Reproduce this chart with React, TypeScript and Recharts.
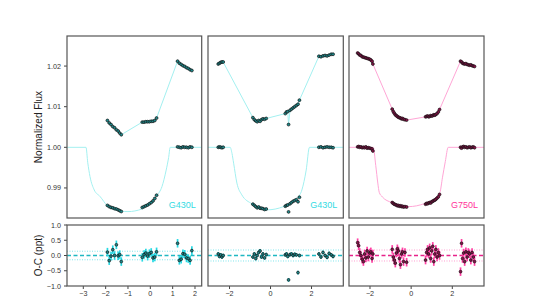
import React from 'react';
import { ComposedChart, Scatter, Line, XAxis, YAxis, ReferenceLine, ErrorBar } from 'recharts';

const W = 538;
const H = 300;
const FONT = '"Liberation Sans", Arial, Helvetica, sans-serif';

// plot boxes (pixels)
const TOP = [36, 218];
const BOT = [225, 286];

const fluxDomain: [number, number] = [0.9826, 1.0274];
const fluxTicks = [0.99, 1.0, 1.01, 1.02];
const resTicks = [-1, -0.5, 0, 0.5, 1];

// ---- visit 1, G430L ----
const v1Time = [-1.92, -1.84, -1.76, -1.68, -1.6, -1.52, -1.44, -1.37, -1.3,
  -0.36, -0.28, -0.2, -0.12, -0.04, 0.04, 0.12, 0.2, 0.28,
  1.22, 1.3, 1.38, 1.46, 1.54, 1.62, 1.7, 1.78, 1.86];
const v1Raw = [1.0066, 1.006, 1.0056, 1.0051, 1.0048, 1.0043, 1.004, 1.0035, 1.0031,
  1.0062, 1.0062, 1.0063, 1.0063, 1.0063, 1.0064, 1.0064, 1.0066, 1.0072,
  1.0212, 1.0207, 1.0204, 1.0201, 1.0199, 1.0196, 1.0194, 1.0191, 1.0189];
const v1Det = [0.9857, 0.9854, 0.9852, 0.9851, 0.9849, 0.9848, 0.9846, 0.9844, 0.9842,
  0.9852, 0.9854, 0.9856, 0.9858, 0.9861, 0.9864, 0.9868, 0.9874, 0.9882,
  1.0001, 1.0, 0.9999, 1.0001, 1.0, 1.0, 0.9999, 1.0001, 1.0];
const v1Res = [0.11, -0.17, -0.02, 0.19, 0.0, 0.35, -0.01, 0.03, -0.2,
  -0.06, 0.03, 0.08, -0.02, 0.06, 0.1, -0.08, -0.05, 0.12,
  0.4, -0.16, -0.12, 0.06, 0.04, -0.08, -0.1, -0.16, 0.16];
const v1ModelT = [-3.73, -2.88, -2.8, -2.7, -2.51, -2.25, -1.92, -1.58, -1.0, -0.38, -0.01, 0.29, 0.52, 0.71, 0.82, 0.89, 2.3];
const v1ModelF = [1.0, 1.0, 0.9962, 0.9928, 0.9895, 0.9879, 0.9856, 0.9846, 0.98418, 0.9848, 0.9862, 0.9881, 0.9903, 0.9944, 0.9975, 1.0, 1.0];

// ---- visit 2, G430L ----
const v2Time = [-2.55, -2.49, -2.43, -2.37, -2.31,
  -0.86, -0.79, -0.72, -0.65, -0.58, -0.51, -0.44, -0.37, -0.29, -0.21,
  0.72, 0.78, 0.84, 0.88, 0.95, 1.02, 1.1, 1.18, 1.26, 1.34, 1.41,
  2.36, 2.46, 2.56, 2.66, 2.76, 2.86, 2.96, 3.05];
const v2Raw = [1.0205, 1.0207, 1.0209, 1.021, 1.021,
  1.0073, 1.0068, 1.0065, 1.0063, 1.0066, 1.0064, 1.0068, 1.007, 1.0069, 1.0071,
  1.0083, 1.0087, 1.0088, 1.0056, 1.0091, 1.0094, 1.0097, 1.01, 1.0103, 1.0106, 1.0116,
  1.0224, 1.0223, 1.0225, 1.0226, 1.0225, 1.0227, 1.0229, 1.0229];
const v2Det = [1.0, 1.0001, 1.0, 0.9999, 1.0,
  0.986, 0.9857, 0.9854, 0.9851, 0.9853, 0.985, 0.985, 0.9849, 0.9847, 0.9848,
  0.9855, 0.9857, 0.9858, 0.9841, 0.9861, 0.9864, 0.9867, 0.9869, 0.9871, 0.9866, 0.9877,
  1.0, 1.0001, 0.9999, 1.0, 1.0001, 1.0, 1.0, 0.9999];
const v2Res = [0.05, -0.03, 0.02, -0.05, 0.0,
  -0.05, 0.05, -0.1, 0.0, 0.1, 0.15, -0.05, 0.05, -0.08, 0.03,
  0.02, 0.05, -0.03, -0.8, 0.03, 0.05, 0.0, 0.04, 0.02, -0.56, 0.0,
  0.05, -0.05, 0.1, 0.0, -0.06, 0.07, 0.02, -0.03];
const v2ModelT = [-3.05, -1.97, -1.88, -1.8, -1.64, -1.4, -0.91, -0.18, 0.63, 1.29, 1.53, 1.74, 1.9, 3.55];
const v2ModelF = [1.0, 1.0, 0.9985, 0.9961, 0.9912, 0.9883, 0.9861, 0.9846, 0.9854, 0.9875, 0.9895, 0.9944, 1.0, 1.0];

// ---- visit 3, G750L ----
const v3Time = [-2.6, -2.55, -2.5, -2.44, -2.38, -2.32, -2.26, -2.2, -2.14, -2.08, -2.02, -1.96, -1.9, -1.86,
  -0.92, -0.87, -0.82, -0.77, -0.72, -0.67, -0.62, -0.57, -0.52, -0.47, -0.42, -0.37, -0.3, -0.22,
  0.7, 0.75, 0.8, 0.85, 0.9, 0.95, 1.0, 1.05, 1.1, 1.15, 1.2, 1.26, 1.32, 1.38,
  2.4, 2.45, 2.5, 2.55, 2.6, 2.66, 2.72, 2.78, 2.84, 2.9, 2.96, 3.02, 3.08];
const v3Raw = [1.0232, 1.023, 1.0227, 1.0226, 1.0223, 1.0222, 1.0221, 1.022, 1.0219, 1.0218, 1.0217, 1.0215, 1.0212, 1.0205,
  1.0094, 1.0088, 1.0084, 1.008, 1.0078, 1.0076, 1.0074, 1.0073, 1.0072, 1.007, 1.0071, 1.0069, 1.0068, 1.0067,
  1.0075, 1.0076, 1.0077, 1.0075, 1.0076, 1.0078, 1.0077, 1.0078, 1.008, 1.0079, 1.0081, 1.0083, 1.0087, 1.0093,
  1.0212, 1.021, 1.0207, 1.0206, 1.0205, 1.0206, 1.0204, 1.0203, 1.0202, 1.0203, 1.0201, 1.02, 1.0199];
const v3Det = [1.0001, 1.0002, 1.0, 1.0001, 0.9999, 1.0, 0.9999, 1.0001, 0.9998, 0.9999, 0.9998, 0.9997, 0.9996, 0.9991,
  0.9864, 0.9862, 0.986, 0.9859, 0.9858, 0.9856, 0.9857, 0.9855, 0.9856, 0.9854, 0.9855, 0.9853, 0.9854, 0.9853,
  0.986, 0.9862, 0.9861, 0.9863, 0.9864, 0.9863, 0.9866, 0.9867, 0.9869, 0.987, 0.9872, 0.9875, 0.9878, 0.9884,
  1.0, 0.9998, 1.0001, 1.0002, 1.0, 1.0001, 0.9999, 1.0, 1.0001, 0.9999, 1.0, 1.0001, 0.9999];
const v3Res = [0.42, 0.32, 0.1, 0.0, -0.12, -0.2, 0.05, -0.08, 0.15, -0.05, 0.08, 0.12, -0.1, 0.05,
  0.2, -0.05, -0.15, -0.25, 0.08, 0.22, 0.15, -0.1, -0.3, 0.05, 0.12, -0.2, 0.1, -0.22,
  -0.15, 0.1, 0.2, 0.05, 0.25, -0.1, 0.15, 0.3, -0.2, 0.05, 0.2, -0.05, 0.1, 0.0,
  -0.53, 0.4, -0.1, 0.08, -0.2, 0.12, -0.05, 0.1, 0.05, -0.15, 0.1, -0.05, -0.2];
const v3ModelT = [-3.02, -1.84, -1.72, -1.62, -1.55, -1.4, -0.95, -0.14, 0.67, 1.3, 1.4, 1.52, 1.66, 1.8, 3.54];
const v3ModelF = [1.0, 1.0, 0.9955, 0.9912, 0.9889, 0.9878, 0.9864, 0.9854, 0.9862, 0.9882, 0.9889, 0.9925, 0.9965, 1.0, 1.0];

const CYAN = { line: '#a3f0f0', fill: '#1e8a8c', bar: '#27d9e3', zero: '#1fb8c2', dot: '#7fe6ec', text: '#33dbe3' };
const PINK = { line: '#ffa6d6', fill: '#8a1048', bar: '#ff3fa3', zero: '#e8238a', dot: '#ff9fd0', text: '#ff3399' };

const panels = [
  { x0: 67, x1: 201.7, domain: [-3.73, 2.3], ticks: [-3, -2, -1, 0, 1, 2], time: v1Time, raw: v1Raw, det: v1Det, res: v1Res,
    mT: v1ModelT, mF: v1ModelF, c: CYAN, band: 0.14, err: 0.14, label: 'G430L', showY: true },
  { x0: 208, x1: 343.3, domain: [-3.05, 3.55], ticks: [-2, 0, 2], time: v2Time, raw: v2Raw, det: v2Det, res: v2Res,
    mT: v2ModelT, mF: v2ModelF, c: CYAN, band: 0.18, err: 0.06, label: 'G430L', showY: false },
  { x0: 349, x1: 484, domain: [-3.02, 3.54], ticks: [-2, 0, 2], time: v3Time, raw: v3Raw, det: v3Det, res: v3Res,
    mT: v3ModelT, mF: v3ModelF, c: PINK, band: 0.18, err: 0.14, label: 'G750L', showY: false },
];

const abs: React.CSSProperties = { position: 'absolute', left: 0, top: 0 };
const tickStyle = { fontSize: 7.2, fill: '#333', fontFamily: FONT };
const minus = (v: number, d: number) => (v < 0 ? '\u2212' : '') + Math.abs(v).toFixed(d);

const marker = (fill: string, r: number) => (props: any) => (
  <circle cx={props.cx} cy={props.cy} r={r} fill={fill} stroke="#141414" strokeWidth={0.7} />
);

function TopPanel({ p }: { p: any }) {
  const yw = p.showY ? 30 : 0;
  const model = p.mT.map((t: number, i: number) => ({ x: t, y: p.mF[i] }));
  const raw = p.time.map((t: number, i: number) => ({ x: t, y: p.raw[i] }));
  const det = p.time.map((t: number, i: number) => ({ x: t, y: p.det[i] }));
  return (
    <ComposedChart width={W} height={H} style={abs}
      margin={{ left: p.x0 - yw, right: W - p.x1, top: TOP[0], bottom: H - TOP[1] }}>
      <XAxis type="number" dataKey="x" domain={p.domain} hide allowDataOverflow />
      <YAxis type="number" dataKey="y" domain={fluxDomain} ticks={fluxTicks} hide={!p.showY} width={yw}
        allowDataOverflow axisLine={false} tickSize={3} tickMargin={3} tickLine={{ stroke: '#444' }}
        tick={tickStyle} tickFormatter={(v: number) => v.toFixed(2)} interval={0} />
      <Line data={model} dataKey="y" type="monotone" stroke={p.c.line} strokeWidth={1} dot={false}
        isAnimationActive={false} />
      <Scatter data={raw} line={{ stroke: p.c.line, strokeWidth: 1 }} lineType="joint"
        shape={marker(p.c.fill, 1.45)} isAnimationActive={false} />
      <Scatter data={det} shape={marker(p.c.fill, 1.45)} isAnimationActive={false} />
    </ComposedChart>
  );
}

function ResPanel({ p }: { p: any }) {
  const yw = p.showY ? 30 : 0;
  const pts = p.time.map((t: number, i: number) => ({ x: t, y: p.res[i], e: p.err }));
  return (
    <ComposedChart width={W} height={H} style={abs}
      margin={{ left: p.x0 - yw, right: W - p.x1, top: BOT[0], bottom: H - BOT[1] - 20 }}>
      <XAxis type="number" dataKey="x" domain={p.domain} ticks={p.ticks} height={20} allowDataOverflow
        axisLine={false} tickSize={3} tickMargin={2} tickLine={{ stroke: '#444' }} tick={tickStyle}
        tickFormatter={(v: number) => minus(v, 0)} interval={0} />
      <YAxis type="number" dataKey="y" domain={[-1, 1]} ticks={resTicks} hide={!p.showY} width={yw}
        allowDataOverflow axisLine={false} tickSize={3} tickMargin={3} tickLine={{ stroke: '#444' }}
        tick={tickStyle} tickFormatter={(v: number) => minus(v, 1)} interval={0} />
      <ReferenceLine y={p.band} stroke={p.c.dot} strokeWidth={1} strokeDasharray="1 1.5" />
      <ReferenceLine y={-p.band} stroke={p.c.dot} strokeWidth={1} strokeDasharray="1 1.5" />
      <ReferenceLine y={0} stroke={p.c.zero} strokeWidth={1.3} strokeDasharray="4 2.5" />
      <Scatter data={pts} shape={marker(p.c.fill, 1.4)} isAnimationActive={false}>
        <ErrorBar dataKey="e" direction="y" width={0} stroke={p.c.bar} strokeWidth={1.7} />
      </Scatter>
    </ComposedChart>
  );
}

export default function App() {
  return (
    <div style={{ position: 'absolute', left: 0, top: 0, width: W, height: H, background: '#fff', fontFamily: FONT }}>
      {panels.map((p, i) => <TopPanel key={'t' + i} p={p} />)}
      {panels.map((p, i) => <ResPanel key={'r' + i} p={p} />)}
      <svg width={W} height={H} style={{ ...abs, pointerEvents: 'none' }}>
        {panels.map((p, i) => (
          <g key={i}>
            <rect x={p.x0} y={TOP[0]} width={p.x1 - p.x0} height={TOP[1] - TOP[0]} fill="none" stroke="#555" strokeWidth={1.2} />
            <rect x={p.x0} y={BOT[0]} width={p.x1 - p.x0} height={BOT[1] - BOT[0]} fill="none" stroke="#555" strokeWidth={1.2} />
            <text x={p.x1 - 6} y={207.5} textAnchor="end" fontSize={9} fill={p.c.text} fontFamily={FONT}>{p.label}</text>
          </g>
        ))}
        <text transform="translate(42,127) rotate(-90)" textAnchor="middle" fontSize={10} fill="#222" fontFamily={FONT}>Normalized Flux</text>
        <text transform="translate(42,255.5) rotate(-90)" textAnchor="middle" fontSize={10} fill="#222" fontFamily={FONT}>O-C (ppt)</text>
      </svg>
    </div>
  );
}
